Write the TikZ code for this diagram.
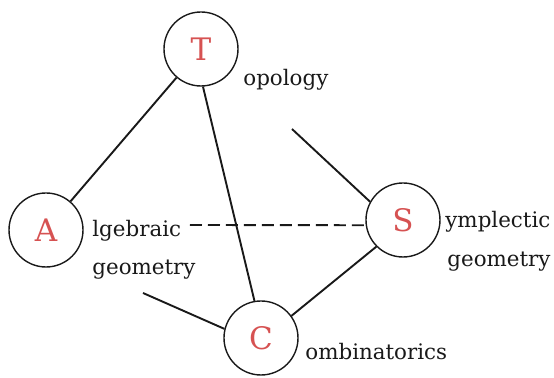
\documentclass[tikz,border=0pt]{standalone}
\usepackage{fontspec}
\setmainfont{DejaVu Serif}
\definecolor{letterred}{RGB}{214,82,82}
\definecolor{ink}{RGB}{25,25,25}
\begin{document}
\begin{tikzpicture}[x=0.5pt,y=-0.5pt,
  field/.style={circle,draw=ink,line width=0.7pt,minimum size=37pt,inner sep=0pt,
    text=letterred,font=\fontsize{15.5}{18}\selectfont},
  lbl/.style={anchor=base west,inner sep=0pt,text=ink,font=\fontsize{10.7}{13}\selectfont},
  edge/.style={draw=ink,line width=0.95pt},
  dashedge/.style={draw=ink,line width=0.95pt,dash pattern=on 6pt off 3pt}]
\useasboundingbox (0,0) rectangle (554,378);
\node[field] (T) at (201,49) {T};
\node[field] (A) at (46,230) {A};
\node[field] (S) at (403,220) {S};
\node[field] (C) at (261,338) {C};
\node[lbl] (lt) at (243,86) {opology};
\node[lbl] (la1) at (92,237) {lgebraic};
\node[lbl] (la2) at (92,275) {geometry};
\node[lbl] (ls1) at (445,228) {ymplectic};
\node[lbl] (ls2) at (447,267) {geometry};
\node[lbl] (lc) at (305,360) {ombinatorics};
\coordinate (d0) at (190,225);
\coordinate (s0) at (292,129);
\coordinate (c0) at (143,293);
\draw[edge] (T) -- (A);
\draw[edge] (T.273) -- (C.100);
\draw[dashedge] (d0) -- (S.188);
\draw[edge] (s0) -- (S.151);
\draw[edge] (C.36) -- (S.225);
\draw[edge] (c0) -- (C.166);
\end{tikzpicture}
\end{document}
